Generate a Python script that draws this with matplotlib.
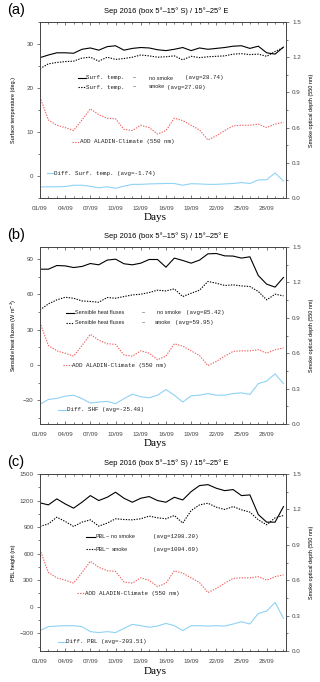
import matplotlib
matplotlib.use("Agg")
import matplotlib.pyplot as plt
from matplotlib.lines import Line2D
from matplotlib.ticker import MultipleLocator
import numpy as np

# ---- data ----
days = np.arange(1, 31)
day_ticks = [1, 4, 7, 10, 13, 16, 19, 22, 25, 28]
day_labels = ["01/09", "04/09", "07/09", "10/09", "13/09",
              "16/09", "19/09", "22/09", "25/09", "28/09"]

aod = [0.86, 0.665, 0.62, 0.60, 0.575, 0.665, 0.76, 0.71, 0.68, 0.675,
       0.585, 0.575, 0.62, 0.60, 0.545, 0.575, 0.68, 0.66, 0.62, 0.58,
       0.495, 0.53, 0.575, 0.615, 0.62, 0.62, 0.63, 0.60, 0.63, 0.645]

temp_nosmoke = [26.9, 27.5, 28.0, 28.0, 27.9, 28.8, 29.1, 28.6, 29.4, 29.6,
                28.6, 29.0, 29.2, 29.1, 28.7, 28.5, 28.8, 29.2, 28.5, 29.1,
                28.8, 29.0, 29.2, 29.5, 29.6, 29.0, 29.5, 28.0, 27.7, 29.3]
temp_smoke = [24.4, 25.5, 25.8, 26.0, 26.1, 26.8, 27.0, 26.1, 27.0, 26.5,
              26.7, 27.0, 27.5, 27.3, 27.0, 27.1, 27.3, 26.4, 27.2, 26.9,
              27.1, 27.2, 27.3, 27.7, 27.8, 27.6, 27.7, 27.2, 28.3, 29.2]
temp_diff = [-2.5, -2.45, -2.45, -2.4, -2.1, -2.1, -2.35, -2.7, -2.45, -2.8,
             -2.3, -1.9, -1.9, -1.8, -1.75, -1.7, -1.7, -2.1, -1.75, -1.8,
             -1.9, -1.9, -1.8, -1.7, -1.5, -1.7, -0.9, -0.85, 0.7, -1.15]

shf_nosmoke = [81.2, 81.2, 84.3, 84.0, 82.6, 83.5, 86.0, 84.9, 88.9, 89.7,
               85.8, 84.9, 86.3, 89.4, 89.4, 82.9, 90.6, 88.6, 86.3, 88.9,
               94.2, 94.5, 92.5, 92.3, 90.6, 91.7, 75.8, 68.5, 66.0, 74.2]
shf_smoke = [46.7, 51.8, 55.2, 57.4, 56.6, 54.3, 53.8, 53.2, 57.2, 56.6,
             58.0, 59.4, 60.0, 61.4, 63.4, 62.8, 64.5, 58.0, 60.8, 63.4,
             70.8, 69.3, 67.4, 67.9, 67.0, 66.5, 62.3, 55.2, 60.0, 58.6]
shf_diff = [-33.3, -29.2, -28.3, -26.4, -25.6, -28.5, -32.2, -31.4, -30.8, -32.8,
            -28.5, -24.7, -26.9, -27.8, -25.6, -20.8, -25.6, -31.4, -26.1, -25.6,
            -24.2, -25.6, -25.6, -24.2, -23.6, -25.0, -15.8, -13.6, -7.5, -15.8]

pbl_nosmoke = [1174, 1151, 1219, 1162, 1114, 1181, 1256, 1200, 1237, 1294,
               1226, 1181, 1226, 1245, 1200, 1181, 1237, 1207, 1301, 1369,
               1380, 1339, 1312, 1324, 1256, 1264, 1042, 956, 956, 1132]
pbl_smoke = [907, 937, 1012, 964, 907, 956, 982, 911, 945, 994,
             986, 982, 994, 1024, 1005, 994, 1031, 945, 1087, 1151,
             1170, 1125, 1099, 1132, 1095, 1069, 982, 926, 1005, 1031]
pbl_diff = [-270, -225, -218, -214, -214, -225, -281, -292, -281, -292,
            -244, -199, -214, -232, -218, -188, -214, -270, -214, -214,
            -218, -214, -218, -195, -169, -195, -75, -49, 49, -131]

W, H = 320, 682
fig = plt.figure(figsize=(W / 100, H / 100), dpi=100)


def fx(x):
    return x / W


def fy(y):
    return 1 - y / H


MONO = "Liberation Mono"
SANS = "Liberation Sans"
RED = "#f06060"
BLUE = "#8fd3f5"


def seg(y, x0, x1, **kw):
    fig.add_artist(Line2D([fx(x0), fx(x1)], [fy(y), fy(y)],
                          transform=fig.transFigure, **kw))


def txt(x, y, s, family=MONO, size=4.2, color="#222222"):
    fig.text(fx(x), fy(y), s, family=family, fontsize=size,
             ha="left", va="center", color=color)


solid = dict(color="black", lw=0.8)
dotted = dict(color="black", lw=0.8, ls=(0, (1.2, 1.2)))
red = dict(color=RED, lw=0.8, ls=(0, (1.2, 1.2)))
blue = dict(color=BLUE, lw=0.8)

panels = [
    dict(tag="(a)", top=22, bottom=198, ylim=(-5, 35), major=10,
         ylabel="Surface temperature (deg.)",
         nos=temp_nosmoke, smo=temp_smoke, diff=temp_diff),
    dict(tag="(b)", top=247, bottom=424, ylim=(-50, 100), major=30,
         ylabel="Sensible heat fluxes (W m$^{-2}$)",
         nos=shf_nosmoke, smo=shf_smoke, diff=shf_diff),
    dict(tag="(c)", top=474, bottom=651, ylim=(-500, 1500), major=300,
         ylabel="PBL height (m)",
         nos=pbl_nosmoke, smo=pbl_smoke, diff=pbl_diff),
]

for p in panels:
    left, right = 40, 286
    ax = fig.add_axes([fx(left), fy(p["bottom"]), (right - left) / W,
                       (p["bottom"] - p["top"]) / H])
    ax2 = ax.twinx()
    ax.plot(days, p["nos"], **solid)
    ax.plot(days, p["smo"], **dotted)
    ax.plot(days, p["diff"], **blue)
    ax2.plot(days, aod, **red)

    ax.set_xlim(1, 30.3)
    ax.set_ylim(*p["ylim"])
    ax2.set_ylim(0, 1.5)
    ax.yaxis.set_major_locator(MultipleLocator(p["major"]))
    ax.yaxis.set_minor_locator(MultipleLocator(p["major"] / 2))
    ax2.yaxis.set_major_locator(MultipleLocator(0.3))
    ax2.yaxis.set_minor_locator(MultipleLocator(0.15))
    ax2.set_yticks(ax2.get_yticks())
    ax2.set_yticklabels([f"{v:.1f}" for v in ax2.get_yticks()])
    ax2.set_ylim(0, 1.5)
    ax.set_xticks(day_ticks)
    ax.set_xticklabels(day_labels)
    ax.xaxis.set_minor_locator(MultipleLocator(1))

    for a in (ax, ax2):
        for s in a.spines.values():
            s.set_linewidth(0.6)
            s.set_color("#444444")
    ax.tick_params(axis="x", which="both", direction="in", top=True,
                   labelsize=4.5, pad=5.5, colors="#444444", width=0.5)
    ax.tick_params(axis="x", which="major", length=2.5)
    ax.tick_params(axis="x", which="minor", length=1.3)
    for a in (ax, ax2):
        a.tick_params(axis="y", which="both", direction="out",
                      labelsize=4.5, pad=2, colors="#444444", width=0.5)
        a.tick_params(axis="y", which="major", length=2.5)
        a.tick_params(axis="y", which="minor", length=1.3)
    for lab in ax.get_xticklabels() + ax.get_yticklabels() + ax2.get_yticklabels():
        lab.set_family(SANS)

    mid = (p["top"] + p["bottom"]) / 2
    fig.text(fx(14), fy(mid), p["ylabel"], family=SANS, fontsize=4,
             rotation=90, ha="center", va="center")
    fig.text(fx(312), fy(mid), "Smoke optical depth (550 nm)", family=SANS,
             fontsize=4, rotation=90, ha="center", va="center")
    fig.text(fx(7), fy(p["top"] - 12), p["tag"], family=SANS, fontsize=10.5,
             ha="left", va="center")
    fig.text(fx(166), fy(p["top"] - 11),
             "Sep 2016 (box 5°–15° S) / 15°–25° E", family=SANS,
             fontsize=5.4, ha="center", va="center")
    fig.text(fx(155), fy(p["bottom"] + 20), "Days", family="Liberation Serif",
             fontsize=8, ha="center", va="center")

# ---- in-plot legends (panel a) ----
seg(78, 78, 86, **solid)
txt(86, 78, "Surf. temp.")
txt(133, 78, "–", SANS, 4)
txt(149, 78, "no smoke", SANS, 4)
txt(185, 78, "(avg=28.74)")
seg(87, 78, 86, **dotted)
txt(86, 87, "Surf. temp.")
txt(133, 87, "–", SANS, 4)
txt(149, 87, "smoke", SANS, 4)
txt(167, 87, "(avg=27.00)")
seg(141.7, 72, 80, **red)
txt(80, 141.7, "AOD ALADIN-Climate (550 nm)")
seg(173, 47, 54, **blue)
txt(54, 173, "Diff. Surf. temp. (avg=-1.74)")

# ---- panel b ----
seg(312.7, 66, 74, **solid)
txt(75, 312.7, "Sensible heat fluxes", SANS, 4)
txt(142, 312.7, "–", SANS, 4)
txt(157, 312.7, "no smoke", SANS, 4)
txt(186, 312.7, "(avg=85.42)")
seg(322.7, 66, 74, **dotted)
txt(75, 322.7, "Sensible heat fluxes", SANS, 4)
txt(142, 322.7, "–", SANS, 4)
txt(155, 322.7, "smoke", SANS, 4)
txt(175, 322.7, "(avg=59.95)")
seg(365, 63, 72, **red)
txt(72, 365, "AOD ALADIN-Climate (550 nm)")
seg(410, 58, 67, **blue)
txt(67, 410, "Diff. SHF (avg=-25.48)")

# ---- panel c ----
seg(536.7, 86, 95, **solid)
txt(95, 536.7, "PBL")
txt(106, 536.7, "–", SANS, 4)
txt(111, 536.7, "no smoke", SANS, 4)
txt(153, 536.7, "(avg=1208.20)")
seg(549.3, 86, 95, **dotted)
txt(95, 549.3, "PBL")
txt(106, 549.3, "–", SANS, 4)
txt(112, 549.3, "smoke", SANS, 4)
txt(153, 549.3, "(avg=1004.69)")
seg(593.3, 77, 85, **red)
txt(85, 593.3, "AOD ALADIN-Climate (550 nm)")
seg(641.7, 58, 66, **blue)
txt(66, 641.7, "Diff. PBL (avg=-203.51)")

fig.savefig("out.png", dpi=100)
